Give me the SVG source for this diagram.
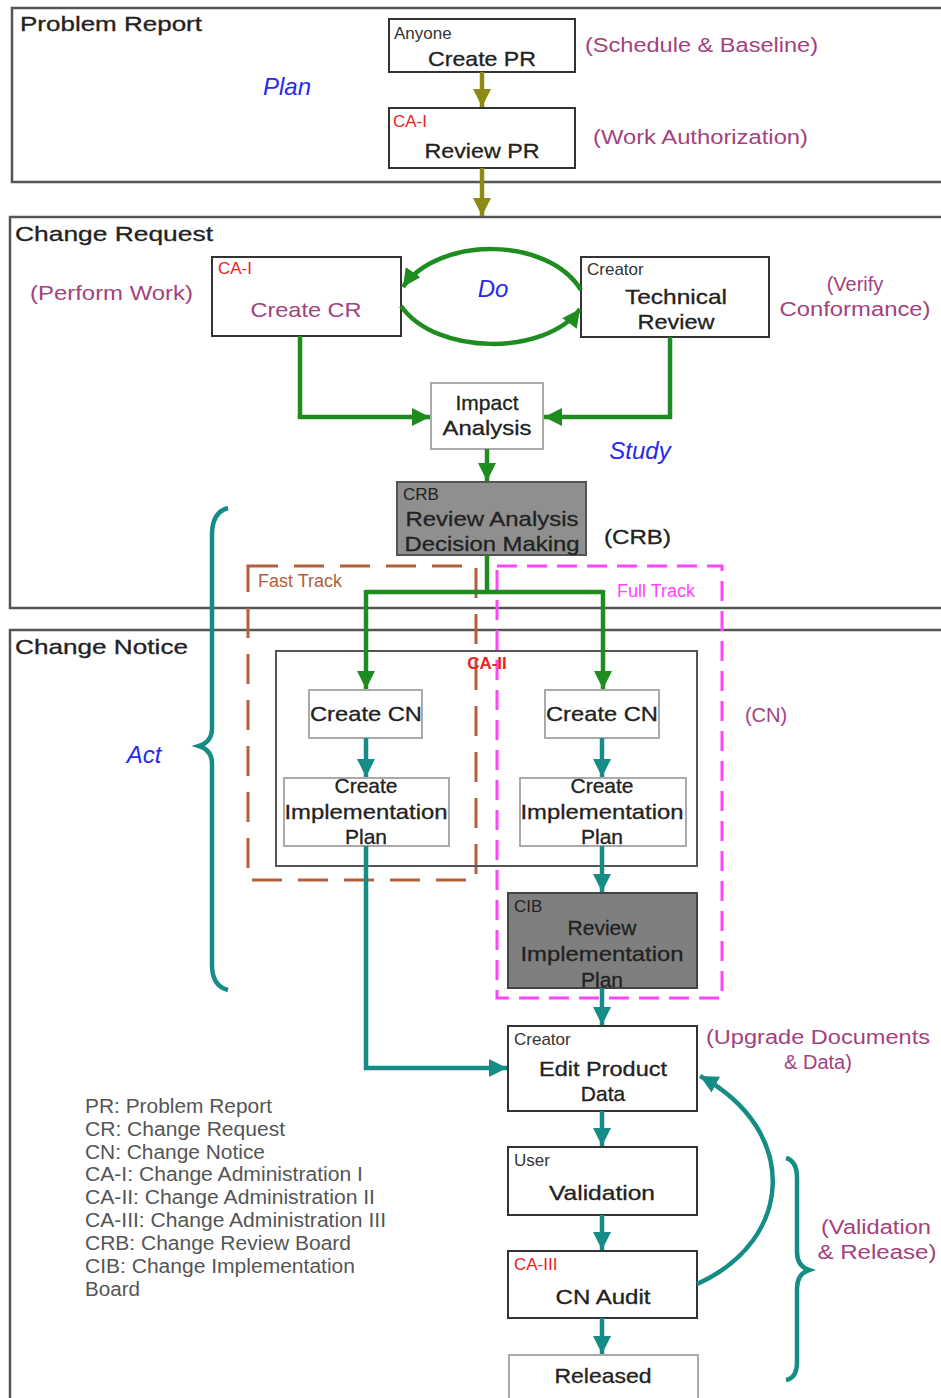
<svg xmlns="http://www.w3.org/2000/svg" width="941" height="1398" viewBox="0 0 941 1398">
<style>
text{font-family:"Liberation Sans",Arial,sans-serif;fill:#222}
.t{font-size:21px;stroke:#222;stroke-width:0.3}
.m{text-anchor:middle}
.s{font-size:17px;fill:#333}
.red{font-size:17px;fill:#ee2222}
.pk{font-size:20px;fill:#a2427e}
.pdca{font-size:24px;font-style:italic;fill:#2828ee}
.sec{fill:none;stroke:#555;stroke-width:2.5}
.box{fill:#fff;stroke:#333;stroke-width:2}
.lbox{fill:#fff;stroke:#aaa;stroke-width:2}
.leg{font-size:20px;fill:#555}
.ol{fill:none;stroke:#8a8a14;stroke-width:4.5}
.gr{fill:none;stroke:#1e8c1e;stroke-width:4.5}
.te{fill:none;stroke:#168c86;stroke-width:4.5}
</style>
<defs>
<marker id="aO" viewBox="0 0 18 18" refX="18" refY="9" markerWidth="18" markerHeight="18" markerUnits="userSpaceOnUse" orient="auto"><path d="M0,0 L18,9 L0,18 z" fill="#8a8a14"/></marker>
<marker id="aG" viewBox="0 0 18 18" refX="18" refY="9" markerWidth="18" markerHeight="18" markerUnits="userSpaceOnUse" orient="auto"><path d="M0,0 L18,9 L0,18 z" fill="#1e8c1e"/></marker>
<marker id="aT" viewBox="0 0 18 18" refX="18" refY="9" markerWidth="18" markerHeight="18" markerUnits="userSpaceOnUse" orient="auto"><path d="M0,0 L18,9 L0,18 z" fill="#168c86"/></marker>
</defs>
<rect width="941" height="1398" fill="#fff"/>

<g id="sec-pr">
<rect class="sec" x="12" y="8" width="935" height="174"/>
<text class="t" x="20" y="31" textLength="182" lengthAdjust="spacingAndGlyphs">Problem Report</text>
<text class="pdca m" x="287" y="95">Plan</text>
<text class="pk" x="585" y="52" textLength="233" lengthAdjust="spacingAndGlyphs">(Schedule &amp; Baseline)</text>
<text class="pk" x="593" y="144" textLength="215" lengthAdjust="spacingAndGlyphs">(Work Authorization)</text>
</g>
<g id="sec-cr">
<rect class="sec" x="10" y="217" width="937" height="391"/>
<text class="t" x="15" y="241" textLength="198" lengthAdjust="spacingAndGlyphs">Change Request</text>
<text class="pk" x="30" y="300" textLength="163" lengthAdjust="spacingAndGlyphs">(Perform Work)</text>
<text class="pk m" x="855" y="291">(Verify</text>
<text class="pk m" x="855" y="316" textLength="151" lengthAdjust="spacingAndGlyphs">Conformance)</text>
<text class="pdca m" x="493" y="297">Do</text>
<text class="pdca m" x="640" y="459">Study</text>
<text class="t" x="604" y="544" textLength="67" lengthAdjust="spacingAndGlyphs">(CRB)</text>
</g>
<g id="sec-cn">
<rect class="sec" x="10" y="630" width="937" height="775"/>
<text class="t" x="15" y="654" textLength="173" lengthAdjust="spacingAndGlyphs">Change Notice</text>
<text class="pdca m" x="144" y="763">Act</text>
<text class="pk m" x="766" y="722">(CN)</text>
<text class="pk m" x="818" y="1044" textLength="224" lengthAdjust="spacingAndGlyphs">(Upgrade Documents</text>
<text class="pk m" x="818" y="1069">&amp; Data)</text>
<text class="pk m" x="876" y="1234" textLength="110" lengthAdjust="spacingAndGlyphs">(Validation</text>
<text class="pk m" x="877" y="1259" textLength="119" lengthAdjust="spacingAndGlyphs">&amp; Release)</text>
</g>

<g id="fast-track">
<rect x="248" y="566" width="228" height="314" fill="none" stroke="#b0603a" stroke-width="3" stroke-dasharray="30 16"/>
<text x="258" y="587" style="font-size:18px;fill:#b0603a">Fast Track</text>
</g>
<g id="full-track">
<rect x="497" y="566" width="225" height="432" fill="none" stroke="#ff44ff" stroke-width="3" stroke-dasharray="20 10"/>
<text x="617" y="597" style="font-size:18px;fill:#ff44ff">Full Track</text>
</g>
<g id="ca2">
<rect x="276" y="651" width="421" height="215" fill="none" stroke="#555" stroke-width="2"/>
<text class="red m" x="487" y="669" style="font-weight:bold">CA-II</text>
</g>

<g id="create-pr">
<rect class="box" x="389" y="19" width="186" height="53"/>
<text class="s" x="394" y="39">Anyone</text>
<text class="t m" x="482" y="66" textLength="108" lengthAdjust="spacingAndGlyphs">Create PR</text>
</g>
<g id="review-pr">
<rect class="box" x="389" y="108" width="186" height="60"/>
<text class="red" x="393" y="127">CA-I</text>
<text class="t m" x="482" y="158" textLength="115" lengthAdjust="spacingAndGlyphs">Review PR</text>
</g>
<g id="create-cr">
<rect class="box" x="212" y="257" width="189" height="79"/>
<text class="red" x="218" y="274">CA-I</text>
<text class="pk m" x="306" y="317" style="font-size:21px" textLength="111" lengthAdjust="spacingAndGlyphs">Create CR</text>
</g>
<g id="tech-review">
<rect class="box" x="581" y="257" width="188" height="80"/>
<text class="s" x="587" y="275">Creator</text>
<text class="t m" x="676" y="304" textLength="102" lengthAdjust="spacingAndGlyphs">Technical</text>
<text class="t m" x="676" y="329" textLength="77" lengthAdjust="spacingAndGlyphs">Review</text>
</g>
<g id="impact">
<rect class="lbox" x="431" y="383" width="112" height="66"/>
<text class="t m" x="487" y="410">Impact</text>
<text class="t m" x="487" y="435" textLength="89" lengthAdjust="spacingAndGlyphs">Analysis</text>
</g>
<g id="crb">
<rect x="397" y="482" width="189" height="73" fill="#8f8f8f" stroke="#555" stroke-width="2"/>
<text class="s" x="403" y="500" style="fill:#222">CRB</text>
<text class="t m" x="492" y="526" textLength="173" lengthAdjust="spacingAndGlyphs">Review Analysis</text>
<text class="t m" x="492" y="551" textLength="175" lengthAdjust="spacingAndGlyphs">Decision Making</text>
</g>
<g id="cn-left">
<rect class="lbox" x="309" y="690" width="113" height="48"/>
<text class="t m" x="366" y="721" textLength="112" lengthAdjust="spacingAndGlyphs">Create CN</text>
</g>
<g id="plan-left">
<rect class="lbox" x="284" y="778" width="165" height="68"/>
<text class="t m" x="366" y="793">Create</text>
<text class="t m" x="366" y="819" textLength="163" lengthAdjust="spacingAndGlyphs">Implementation</text>
<text class="t m" x="366" y="844">Plan</text>
</g>
<g id="cn-right">
<rect class="lbox" x="545" y="690" width="114" height="48"/>
<text class="t m" x="602" y="721" textLength="112" lengthAdjust="spacingAndGlyphs">Create CN</text>
</g>
<g id="plan-right">
<rect class="lbox" x="520" y="778" width="166" height="68"/>
<text class="t m" x="602" y="793">Create</text>
<text class="t m" x="602" y="819" textLength="163" lengthAdjust="spacingAndGlyphs">Implementation</text>
<text class="t m" x="602" y="844">Plan</text>
</g>
<g id="cib">
<rect x="508" y="893" width="189" height="95" fill="#7f7f7f" stroke="#444" stroke-width="2"/>
<text class="s" x="514" y="912" style="fill:#222">CIB</text>
<text class="t m" x="602" y="935">Review</text>
<text class="t m" x="602" y="961" textLength="163" lengthAdjust="spacingAndGlyphs">Implementation</text>
<text class="t m" x="602" y="987">Plan</text>
</g>
<g id="edit">
<rect class="box" x="508" y="1026" width="189" height="85"/>
<text class="s" x="514" y="1045">Creator</text>
<text class="t m" x="603" y="1076" textLength="128" lengthAdjust="spacingAndGlyphs">Edit Product</text>
<text class="t m" x="603" y="1101">Data</text>
</g>
<g id="validation">
<rect class="box" x="508" y="1147" width="189" height="68"/>
<text class="s" x="514" y="1166">User</text>
<text class="t m" x="602" y="1200" textLength="106" lengthAdjust="spacingAndGlyphs">Validation</text>
</g>
<g id="audit">
<rect class="box" x="508" y="1251" width="189" height="67"/>
<text class="red" x="514" y="1270">CA-III</text>
<text class="t m" x="603" y="1304" textLength="95" lengthAdjust="spacingAndGlyphs">CN Audit</text>
</g>
<g id="released">
<rect class="lbox" x="509" y="1355" width="189" height="45"/>
<text class="t m" x="603" y="1383" textLength="97" lengthAdjust="spacingAndGlyphs">Released</text>
</g>

<g id="legend">
<text class="leg" x="85" y="1113" textLength="187" lengthAdjust="spacingAndGlyphs">PR: Problem Report</text>
<text class="leg" x="85" y="1136" textLength="200" lengthAdjust="spacingAndGlyphs">CR: Change Request</text>
<text class="leg" x="85" y="1159" textLength="180" lengthAdjust="spacingAndGlyphs">CN: Change Notice</text>
<text class="leg" x="85" y="1181" textLength="278" lengthAdjust="spacingAndGlyphs">CA-I: Change Administration I</text>
<text class="leg" x="85" y="1204" textLength="290" lengthAdjust="spacingAndGlyphs">CA-II: Change Administration II</text>
<text class="leg" x="85" y="1227" textLength="301" lengthAdjust="spacingAndGlyphs">CA-III: Change Administration III</text>
<text class="leg" x="85" y="1250" textLength="266" lengthAdjust="spacingAndGlyphs">CRB: Change Review Board</text>
<text class="leg" x="85" y="1273" textLength="270" lengthAdjust="spacingAndGlyphs">CIB: Change Implementation</text>
<text class="leg" x="85" y="1296" textLength="55" lengthAdjust="spacingAndGlyphs">Board</text>
</g>

<g id="connectors">
<path class="ol" d="M482,72 L482,107" marker-end="url(#aO)"/>
<path class="ol" d="M482,168 L482,216" marker-end="url(#aO)"/>
<path class="gr" d="M581,290 C548,236 438,236 403,287" marker-end="url(#aG)"/>
<path class="gr" d="M401,306 C436,356 546,356 580,309" marker-end="url(#aG)"/>
<path class="gr" d="M300,336 L300,417 L430,417" marker-end="url(#aG)"/>
<path class="gr" d="M670,337 L670,417 L544,417" marker-end="url(#aG)"/>
<path class="gr" d="M487,449 L487,481" marker-end="url(#aG)"/>
<path class="gr" d="M487,555 L487,592"/>
<path class="gr" d="M366,592 L603,592"/>
<path class="gr" d="M366,590 L366,689" marker-end="url(#aG)"/>
<path class="gr" d="M603,590 L603,689" marker-end="url(#aG)"/>
<path class="te" d="M366,738 L366,777" marker-end="url(#aT)"/>
<path class="te" d="M602,738 L602,777" marker-end="url(#aT)"/>
<path class="te" d="M602,846 L602,892" marker-end="url(#aT)"/>
<path class="te" d="M602,988 L602,1025" marker-end="url(#aT)"/>
<path class="te" d="M366,846 L366,1068 L507,1068" marker-end="url(#aT)"/>
<path class="te" d="M602,1111 L602,1146" marker-end="url(#aT)"/>
<path class="te" d="M602,1215 L602,1250" marker-end="url(#aT)"/>
<path class="te" d="M602,1318 L602,1354" marker-end="url(#aT)"/>
<path class="te" d="M697,1284 C795,1240 800,1130 700,1076" marker-end="url(#aT)"/>
<path class="te" d="M228,508 Q212,512 212,535 L212,728 Q212,742 199,746 Q212,750 212,764 L212,965 Q212,986 228,990"/>
<path class="te" d="M786,1158 Q797,1161 797,1178 L797,1252 Q797,1266 809,1270 Q797,1274 797,1288 L797,1362 Q797,1378 786,1380"/>
</g>
</svg>
